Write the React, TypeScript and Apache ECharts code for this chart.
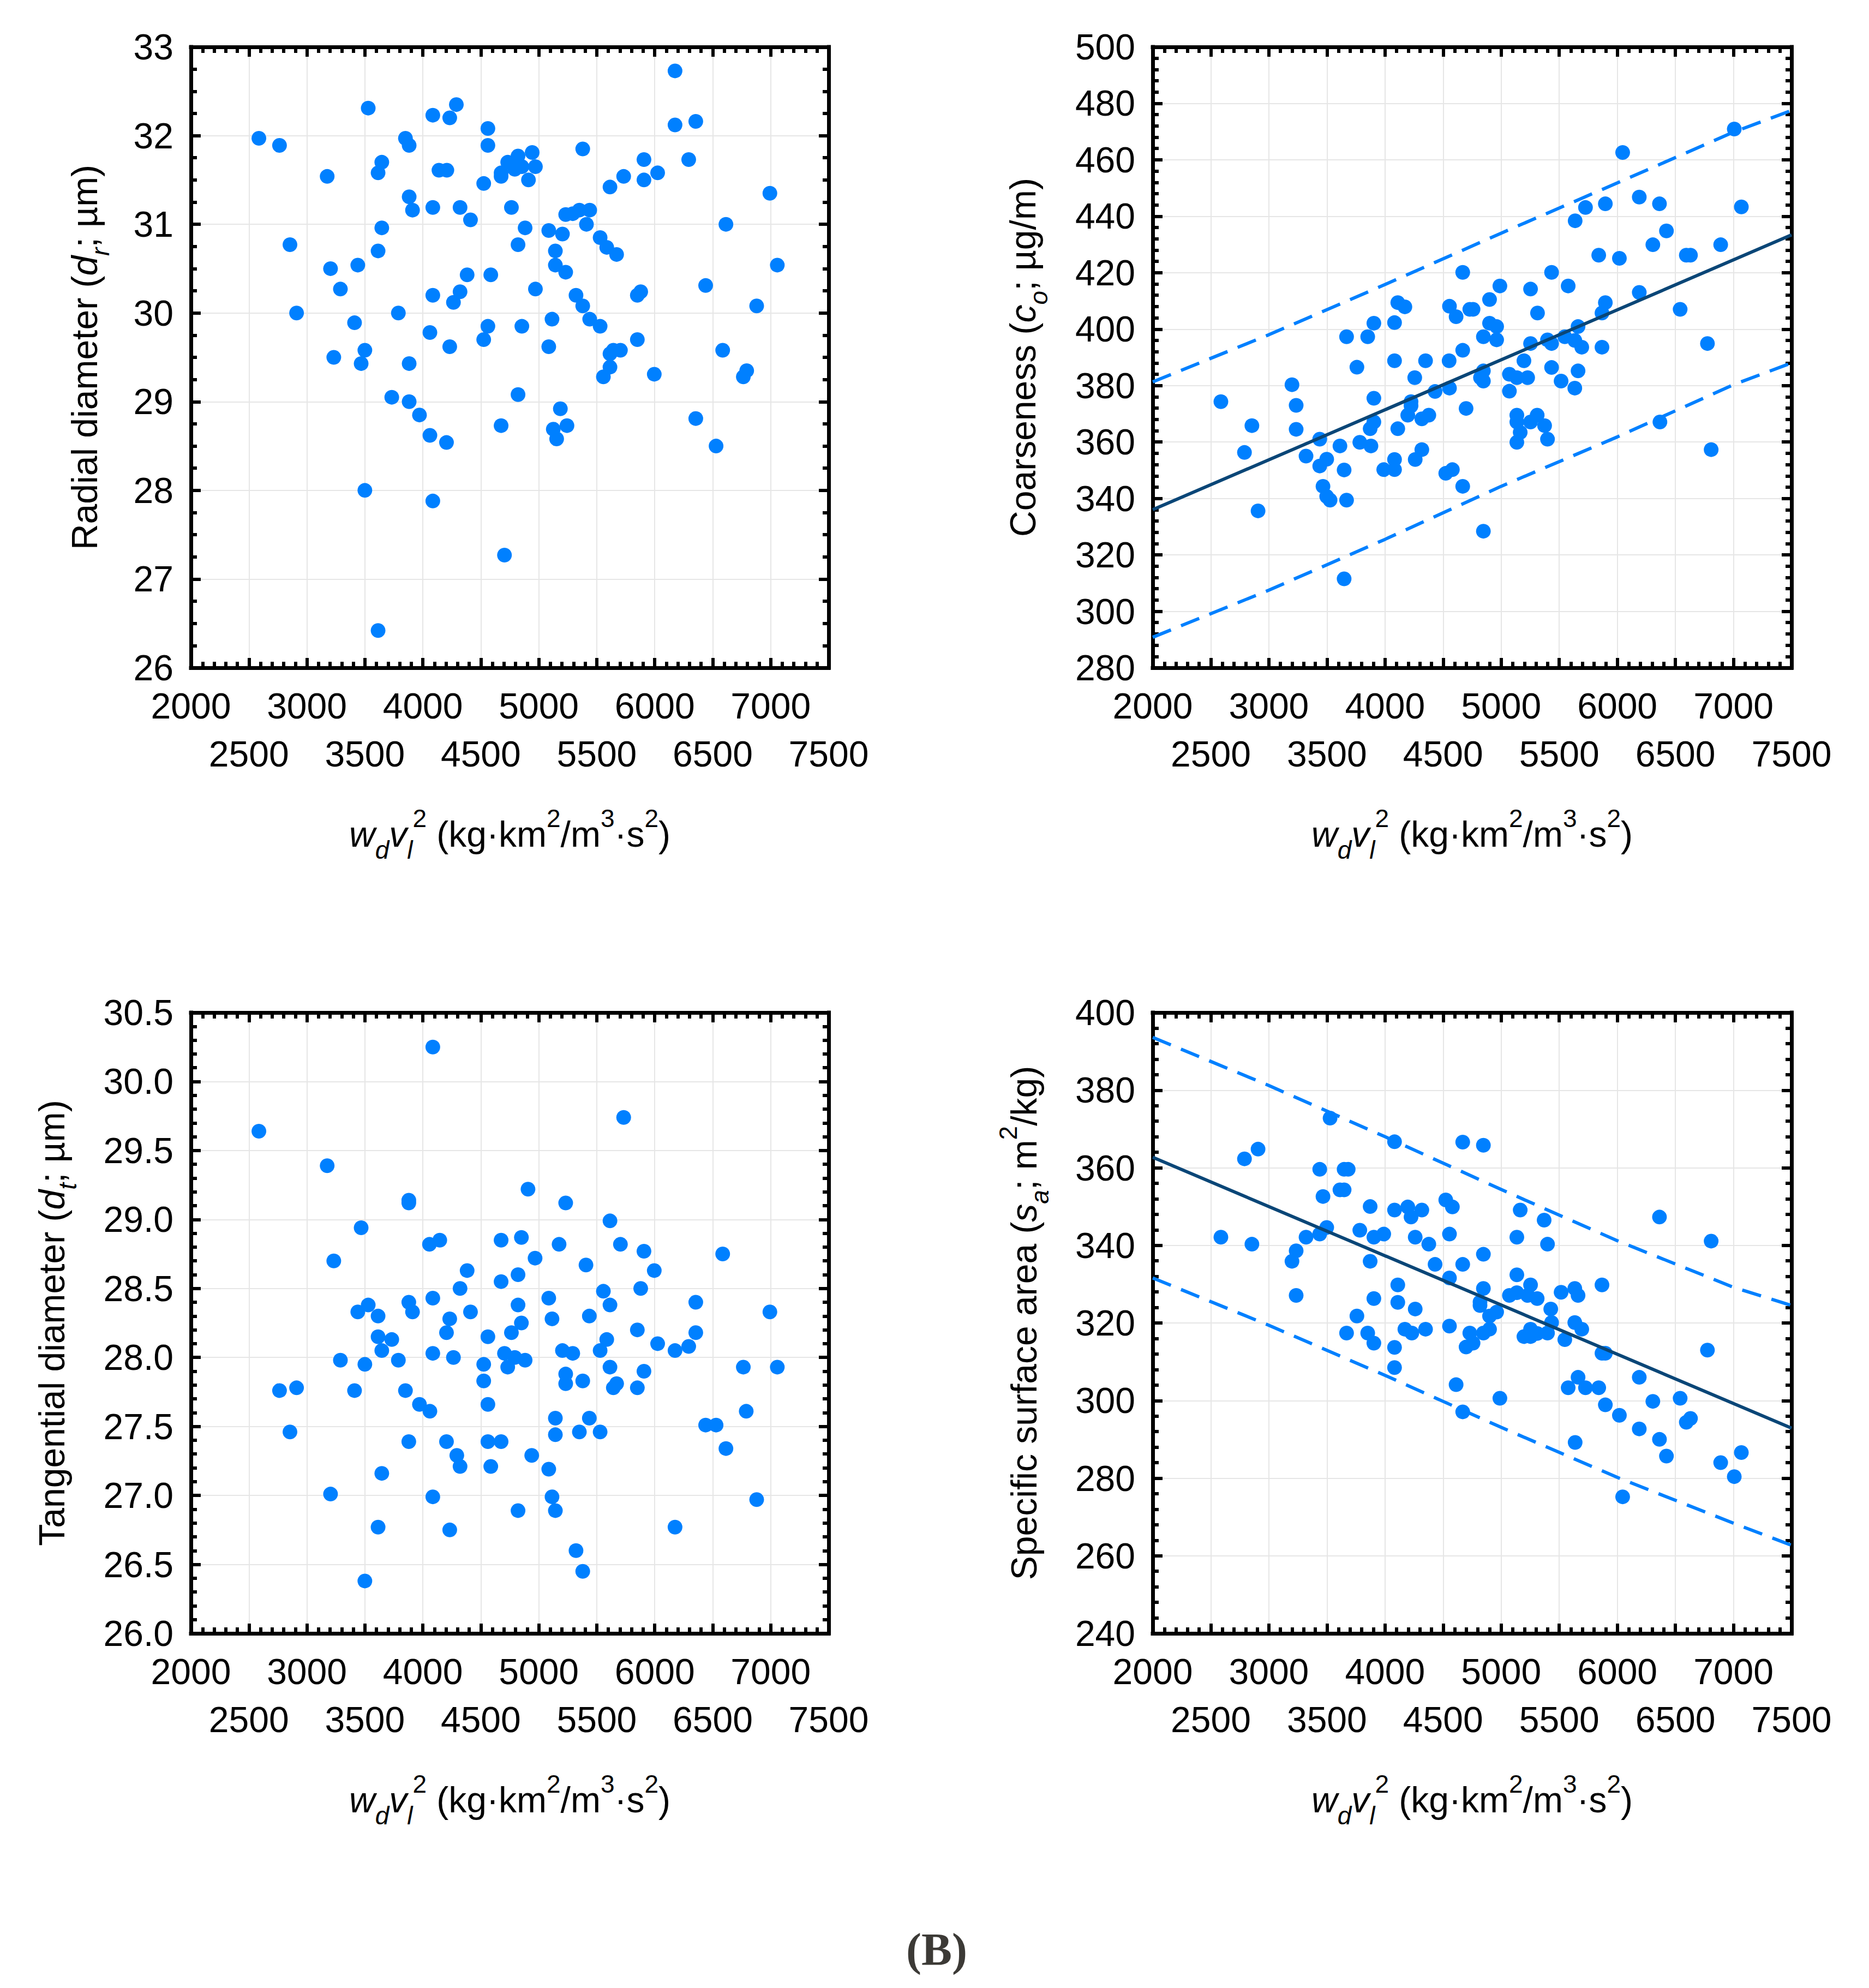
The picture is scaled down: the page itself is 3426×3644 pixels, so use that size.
import React, { useEffect, useRef } from 'react';
import * as echarts from 'echarts';

const FONT = '"Liberation Sans", Arial, Helvetica, sans-serif';

// ---------- data ----------
const xTicksMin = 2000;
const xTicksMax = 7500;
const xTickStep = 500;

const radialData: number[][] = [
  [2586,31.97],[2764,31.89],[3529,32.31],[4086,32.23],[4232,32.20],[4289,32.35],[4561,32.08],[4561,31.89],[6175,32.73],[6175,32.12],
  [6354,32.16],[3850,31.97],[3882,31.89],[3175,31.54],[3646,31.70],[3614,31.58],[4139,31.61],[4207,31.61],[4525,31.46],[4675,31.58],
  [4675,31.54],[4732,31.70],[4821,31.77],[4793,31.62],[4854,31.65],[4943,31.81],[4971,31.65],[4911,31.50],[5379,31.85],[5614,31.42],
  [5732,31.54],[5907,31.73],[5907,31.50],[6025,31.58],[6293,31.73],[6993,31.35],[3882,31.31],[3911,31.16],[4086,31.19],[4321,31.19],
  [4411,31.05],[4764,31.19],[3646,30.96],[4882,30.96],[4821,30.77],[5232,31.11],[5293,31.12],[5350,31.16],[5439,31.16],[5411,31.00],
  [5086,30.93],[5204,30.89],[5143,30.70],[5143,30.54],[5232,30.46],[5529,30.85],[5586,30.74],[5671,30.66],[6614,31.00],[7057,30.54],
  [2854,30.77],[3204,30.50],[3439,30.54],[3614,30.70],[3289,30.27],[2911,30.00],[3411,29.89],[3789,30.00],[4382,30.43],[4586,30.43],
  [4086,30.20],[4321,30.24],[4264,30.12],[4971,30.27],[5321,30.20],[5379,30.08],[5439,29.93],[5529,29.85],[5850,30.20],[5879,30.24],
  [6439,30.31],[6879,30.08],[5114,29.93],[4561,29.85],[4854,29.85],[4061,29.78],[4525,29.70],[4232,29.62],[5086,29.62],[3232,29.50],
  [3500,29.58],[3468,29.43],[3882,29.43],[5643,29.58],[5704,29.58],[5614,29.54],[5614,29.39],[5557,29.28],[5850,29.70],[5996,29.31],
  [6586,29.58],[6793,29.35],[6764,29.28],[3732,29.05],[3882,29.00],[3971,28.85],[4061,28.62],[4204,28.54],[4821,29.08],[4675,28.73],
  [5186,28.92],[5125,28.69],[5243,28.73],[5154,28.58],[6354,28.81],[6529,28.50],[3500,28.00],[4086,27.88],[4704,27.27],[3614,26.42]
];

const coarseData: number[][] = [
  [2587,374.3],[2790,356.3],[2854,365.8],[2907,335.6],[3199,380.3],[3235,373.0],[3235,364.5],[3320,355.0],[3438,361.0],[3438,351.5],
  [3498,353.9],[3466,344.3],[3498,340.7],[3527,339.4],[3612,358.6],[3648,350.1],[3669,339.4],[3648,311.5],[3669,397.3],[3758,386.5],
  [3851,397.3],[3783,359.9],[3879,358.6],[3872,364.7],[3904,367.1],[3904,375.5],[3904,402.1],[3989,350.2],[4082,350.2],[4082,353.8],
  [4082,402.3],[4082,388.8],[4110,409.4],[4171,407.9],[4110,364.7],[4196,369.5],[4224,374.3],[4224,372.8],[4256,382.8],[4260,353.8],
  [4317,357.3],[4317,368.2],[4377,369.5],[4349,388.8],[4431,377.9],[4523,348.9],[4580,350.2],[4669,344.3],[4555,379.1],[4552,388.8],
  [4555,408.1],[4612,404.4],[4669,420.1],[4669,392.5],[4698,371.9],[4730,407.0],[4758,407.0],[4847,328.4],[4847,397.3],[4847,385.2],
  [4847,381.6],[4822,382.8],[4900,410.5],[4900,402.1],[4961,400.9],[4961,396.2],[4989,415.3],[5071,384.0],[5071,378.0],[5135,382.8],
  [5135,369.5],[5135,367.1],[5164,363.4],[5135,359.9],[5196,388.8],[5228,382.8],[5253,367.1],[5310,369.5],[5374,365.8],[5399,361.0],
  [5253,394.9],[5253,414.2],[5313,405.7],[5399,396.2],[5434,394.9],[5434,386.4],[5434,420.1],[5516,381.6],[5548,397.3],[5577,415.3],
  [5634,379.1],[5662,385.2],[5662,400.9],[5634,396.0],[5694,393.6],[5637,438.4],[5726,443.1],[5840,426.2],[5868,405.7],[5897,409.4],
  [5868,393.6],[5897,444.4],[6018,425.1],[6046,462.6],[6189,446.8],[6189,413.0],[6306,429.9],[6363,444.4],[6423,434.8],[6367,367.1],
  [6541,407.0],[6594,426.2],[6630,426.2],[6776,394.9],[6808,357.3],[6890,429.9],[7007,470.9],[7068,443.3]
];
const coarseFit: number[][] = [[2000,336.0],[7500,433.4]];
const coarseUpper: number[][] = [[2000,381.3],[3000,398.0],[4000,415.8],[5000,434.0],[6000,451.8],[7000,469.8],[7500,477.5]];
const coarseLower: number[][] = [[2000,290.8],[3000,307.5],[4000,325.5],[5000,344.3],[6000,361.8],[7000,380.3],[7500,388.0]];

const tangData: number[][] = [
  [2586,29.64],[3175,29.39],[3879,29.14],[3879,29.12],[4086,30.25],[5732,29.74],[4907,29.22],[5232,29.12],[3468,28.94],[5614,28.99],
  [3232,28.70],[4057,28.82],[4146,28.85],[4675,28.85],[4850,28.87],[5175,28.82],[5704,28.82],[5907,28.77],[6586,28.75],[4968,28.72],
  [5407,28.67],[5996,28.63],[4382,28.63],[4675,28.55],[4821,28.60],[4321,28.50],[5557,28.48],[5879,28.50],[3529,28.38],[3439,28.33],
  [3614,28.30],[3879,28.40],[3911,28.33],[4086,28.43],[4232,28.28],[4411,28.33],[4821,28.38],[4850,28.25],[5086,28.43],[5114,28.28],
  [5436,28.30],[5614,28.38],[6354,28.40],[6993,28.33],[3614,28.15],[3732,28.13],[3646,28.05],[4204,28.18],[4561,28.15],[4764,28.18],
  [5586,28.13],[5850,28.20],[6354,28.18],[6025,28.10],[6175,28.05],[6293,28.08],[3289,27.98],[3500,27.95],[3789,27.98],[4086,28.03],
  [4264,28.00],[4525,27.95],[4704,28.03],[4793,28.00],[4882,27.98],[4732,27.93],[5204,28.05],[5293,28.03],[5529,28.05],[5614,27.93],
  [5232,27.88],[5907,27.90],[6764,27.93],[7057,27.93],[2764,27.76],[2911,27.78],[3411,27.76],[3850,27.76],[4525,27.83],[5232,27.81],
  [5379,27.83],[5643,27.78],[5671,27.81],[5850,27.78],[3971,27.66],[4061,27.61],[4561,27.66],[5143,27.56],[5436,27.56],[6789,27.61],
  [2854,27.46],[5143,27.44],[5350,27.46],[5529,27.46],[6439,27.51],[6529,27.51],[6614,27.34],[3879,27.39],[4204,27.39],[4561,27.39],
  [4675,27.39],[4293,27.29],[4321,27.21],[4586,27.21],[4939,27.29],[5086,27.19],[3646,27.16],[3204,27.01],[4086,26.99],[5114,26.99],
  [4821,26.89],[5143,26.89],[6879,26.97],[3614,26.77],[4232,26.75],[6175,26.77],[5321,26.60],[5379,26.45],[3500,26.38]
];

const surfData: number[][] = [
  [2587,342.1],[2790,362.3],[2854,340.3],[2907,364.8],[3199,335.9],[3235,338.6],[3235,327.1],[3320,342.1],[3438,359.6],[3438,342.9],
  [3466,352.6],[3498,344.6],[3527,372.8],[3612,354.3],[3648,354.3],[3648,359.6],[3683,359.6],[3669,317.4],[3758,321.8],[3783,343.9],
  [3851,317.4],[3872,350.0],[3872,335.9],[3904,342.1],[3904,326.3],[3904,314.8],[3989,342.9],[4082,366.7],[4082,349.1],[4082,313.7],
  [4082,308.5],[4110,329.8],[4110,325.3],[4171,318.4],[4196,349.9],[4224,347.3],[4231,317.4],[4260,342.1],[4260,323.6],[4317,349.1],
  [4349,318.4],[4377,340.3],[4431,335.1],[4523,351.7],[4555,342.9],[4580,349.9],[4555,331.6],[4555,319.2],[4612,304.1],[4669,366.6],
  [4669,335.1],[4669,297.1],[4698,313.8],[4730,317.4],[4758,314.8],[4847,365.8],[4847,337.7],[4847,328.9],[4818,324.5],[4818,325.4],
  [4847,317.4],[4900,321.8],[4900,318.4],[4961,322.8],[4989,300.6],[5071,327.1],[5135,327.8],[5135,342.1],[5135,332.4],[5164,349.1],
  [5196,316.5],[5228,327.1],[5253,329.8],[5253,318.4],[5253,316.5],[5310,326.3],[5310,317.3],[5370,346.5],[5399,340.3],[5399,317.4],
  [5427,323.6],[5434,320.1],[5516,327.9],[5548,315.7],[5634,328.9],[5662,327.1],[5634,320.1],[5694,318.4],[5577,303.3],[5662,306.0],
  [5726,303.3],[5637,289.2],[5840,303.3],[5868,329.8],[5868,312.2],[5897,312.2],[5897,298.9],[6018,296.2],[6046,275.2],[6189,306.0],
  [6189,292.7],[6306,299.8],[6363,347.3],[6363,290.0],[6423,285.7],[6541,300.6],[6594,294.4],[6630,295.4],[6776,313.0],[6808,341.1],
  [6890,284.0],[7007,280.4],[7068,286.6]
];
const surfFit: number[][] = [[2000,362.7],[7500,292.9]];
const surfUpper: number[][] = [[2000,393.6],[3000,381.2],[4000,368.0],[5000,354.4],[6000,341.2],[7000,329.2],[7500,324.5]];
const surfLower: number[][] = [[2000,331.6],[3000,319.4],[4000,306.5],[5000,293.1],[6000,280.2],[7000,268.4],[7500,262.7]];

// ---------- styling ----------
const DOT = '#0080ff';
const FIT = '#0a4677';
const GRIDLINE = '#e6e6e6';

const rich = {
  n: { fontSize: 66, lineHeight: 104, fontFamily: FONT, color: '#000' },
  i: { fontSize: 66, lineHeight: 104, fontFamily: FONT, fontStyle: 'italic', color: '#000' },
  is: { fontSize: 46, lineHeight: 62, verticalAlign: 'bottom', fontFamily: FONT, fontStyle: 'italic', color: '#000' },
  sp: { fontSize: 46, lineHeight: 50, verticalAlign: 'top', fontFamily: FONT, color: '#000' },
};

const xName = '{i|w}{is|d}{i|v}{is|l}{sp|2}{n| (kg·km}{sp|2}{n|/m}{sp|3}{n|·s}{sp|2}{n|)}';

const panels = [
  { grid: { left: 350, top: 86, width: 1169, height: 1138 }, yMin: 26, yMax: 33, yStep: 1, ySplit: 4, dec: 0,
    yName: '{n|Radial diameter (}{i|d}{is|r}{n|; µm)}', yGap: 143 },
  { grid: { left: 2113, top: 86, width: 1171, height: 1138 }, yMin: 280, yMax: 500, yStep: 20, ySplit: 5, dec: 0,
    yName: '{n|Coarseness (}{i|c}{is|o}{n|; µg/m)}', yGap: 186 },
  { grid: { left: 350, top: 1856, width: 1169, height: 1138 }, yMin: 26, yMax: 30.5, yStep: 0.5, ySplit: 5, dec: 1,
    yName: '{n|Tangential diameter (}{i|d}{is|t}{n|; µm)}', yGap: 203 },
  { grid: { left: 2113, top: 1856, width: 1171, height: 1138 }, yMin: 240, yMax: 400, yStep: 20, ySplit: 5, dec: 0,
    yName: '{n|Specific surface area (}{i|s}{is|a}{n|; m}{sp|2}{n|/kg)}', yGap: 184 },
];

const axisLineStyle = { show: true, onZero: false, lineStyle: { color: '#000', width: 7, cap: 'square' } };
const tickStyle = { show: true, inside: true, length: 18, lineStyle: { color: '#000', width: 6 } };
const labelBase = { fontSize: 66, fontFamily: FONT, color: '#000' };

function buildOption() {
  const grid: any[] = [];
  const xAxis: any[] = [];
  const yAxis: any[] = [];
  panels.forEach((p, gi) => {
    grid.push({ ...p.grid, containLabel: false, outerBoundsMode: 'none' });
    const xRange = { type: 'value', gridIndex: gi, min: xTicksMin, max: xTicksMax, interval: xTickStep };
    const xCommon = {
      ...xRange,
      axisLine: axisLineStyle, axisTick: tickStyle,
      minorTick: { show: true, splitNumber: 5, length: 11, lineStyle: { color: '#000', width: 6 } },
      minorSplitLine: { show: false },
    };
    // bottom axis: frame, ticks, grid, first row of labels (thousands)
    xAxis.push({
      ...xCommon, position: 'bottom',
      splitLine: { show: true, lineStyle: { color: GRIDLINE, width: 2 } },
      axisLabel: {
        ...labelBase, show: true, margin: 26, lineHeight: 88,
        showMinLabel: true, showMaxLabel: true, hideOverlap: false,
        formatter: (v: number) => (Math.round(v) % 1000 === 0 ? String(v) : ''),
      },
      name: xName, nameLocation: 'middle', nameGap: 253,
      nameTextStyle: { ...labelBase, rich },
    });
    // top mirror axis
    xAxis.push({ ...xCommon, position: 'top', splitLine: { show: false }, axisLabel: { show: false } });
    // second row of labels (odd five hundreds)
    xAxis.push({
      ...xRange, position: 'bottom',
      axisLine: { show: false }, axisTick: { show: false }, minorTick: { show: false },
      splitLine: { show: false }, minorSplitLine: { show: false },
      axisLabel: {
        ...labelBase, show: true, margin: 114, lineHeight: 88,
        showMinLabel: true, showMaxLabel: true, hideOverlap: false,
        formatter: (v: number) => (Math.round(v) % 1000 === 0 ? '' : String(v)),
      },
    });
    const yCommon = {
      type: 'value', gridIndex: gi, min: p.yMin, max: p.yMax, interval: p.yStep,
      axisLine: axisLineStyle, axisTick: tickStyle,
      minorTick: { show: true, splitNumber: p.ySplit, length: 11, lineStyle: { color: '#000', width: 6 } },
      minorSplitLine: { show: false },
    };
    yAxis.push({
      ...yCommon, position: 'left',
      splitLine: { show: true, lineStyle: { color: GRIDLINE, width: 2 } },
      axisLabel: {
        ...labelBase, show: true, margin: 32, showMinLabel: true, showMaxLabel: true, hideOverlap: false,
        formatter: (v: number) => v.toFixed(p.dec),
      },
      name: p.yName, nameLocation: 'middle', nameGap: p.yGap, nameRotate: 90,
      nameTextStyle: { ...labelBase, rich },
    });
    yAxis.push({ ...yCommon, position: 'right', splitLine: { show: false }, axisLabel: { show: false } });
  });

  const scatter = (gi: number, data: number[][]) => ({
    type: 'scatter', xAxisIndex: gi * 3, yAxisIndex: gi * 2, data, symbolSize: 27,
    itemStyle: { color: DOT, opacity: 1 }, z: 3, silent: true,
  });
  const line = (gi: number, data: number[][], color: string, dashed: boolean) => ({
    type: 'line', xAxisIndex: gi * 3, yAxisIndex: gi * 2, data, showSymbol: false, symbol: 'none',
    smooth: false, lineStyle: { color, width: 6, type: dashed ? [36, 20] : 'solid' }, z: 4, silent: true,
  });

  return {
    animation: false,
    backgroundColor: '#ffffff',
    grid, xAxis, yAxis,
    series: [
      scatter(0, radialData),
      scatter(1, coarseData),
      line(1, coarseUpper, DOT, true),
      line(1, coarseLower, DOT, true),
      line(1, coarseFit, FIT, false),
      scatter(2, tangData),
      scatter(3, surfData),
      line(3, surfUpper, DOT, true),
      line(3, surfLower, DOT, true),
      line(3, surfFit, FIT, false),
    ],
    graphic: [
      {
        type: 'text', x: 1717, y: 3573, silent: true,
        style: {
          text: '(B)', fill: '#3c3a36', fontSize: 84, fontWeight: 'bold',
          fontFamily: '"Liberation Serif", "Times New Roman", serif',
          align: 'center', verticalAlign: 'middle', textAlign: 'center', textVerticalAlign: 'middle',
        },
      },
    ],
  };
}

export default function App() {
  const ref = useRef<HTMLDivElement>(null);
  useEffect(() => {
    if (!ref.current) return;
    const chart = echarts.init(ref.current, undefined, { renderer: 'svg' });
    chart.setOption(buildOption() as any);
    return () => chart.dispose();
  }, []);
  return (
    <div
      ref={ref}
      style={{ position: 'absolute', left: 0, top: 0, width: 3426, height: 3644, background: '#fff' }}
    />
  );
}
